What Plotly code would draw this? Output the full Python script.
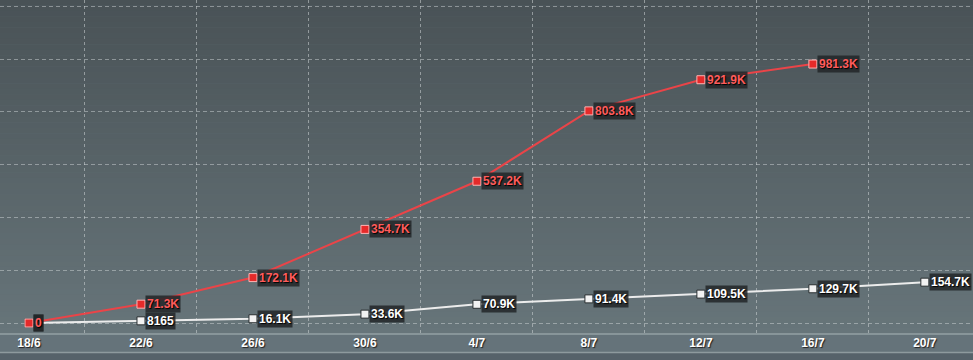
import plotly.graph_objects as go

# Reporting dates (every four days)
dates = ["18/6", "22/6", "26/6", "30/6", "4/7", "8/7", "12/7", "16/7", "20/7"]

# Cumulative totals for the two series
red_values = [0, 71300, 172100, 354700, 537200, 803800, 921900, 981300]
red_labels = ["0", "71.3K", "172.1K", "354.7K", "537.2K", "803.8K", "921.9K", "981.3K"]

white_values = [0, 8165, 16100, 33600, 70900, 91400, 109500, 129700, 154700]
white_labels = ["0", "8165", "16.1K", "33.6K", "70.9K", "91.4K", "109.5K", "129.7K", "154.7K"]

W, H = 973, 360
PLOT_H = 334
LABEL_FONT = "Liberation Sans Narrow, Arial Narrow, Liberation Sans, Arial"

fig = go.Figure()

fig.add_trace(go.Scatter(
    x=dates[:len(white_values)], y=white_values, mode="lines+markers",
    line=dict(color="#ececec", width=2),
    marker=dict(symbol="square", size=8, color="#f2f2f2",
                line=dict(color="#2a2f31", width=1)),
    hoverinfo="skip", showlegend=False,
))
fig.add_trace(go.Scatter(
    x=dates[:len(red_values)], y=red_values, mode="lines+markers",
    line=dict(color="#ea4448", width=2),
    marker=dict(symbol="square", size=8, color="#e52a2a",
                line=dict(color="#ffb3b3", width=1)),
    hoverinfo="skip", showlegend=False,
))

# Value labels in dark boxes to the right of each point
def add_labels(values, labels, color):
    for d, v, t in zip(dates, values, labels):
        fig.add_annotation(
            x=d, y=v, text=t, showarrow=False, xanchor="left", yanchor="middle",
            xshift=4, bgcolor="rgba(34,38,40,0.85)", borderpad=1,
            font=dict(family=LABEL_FONT, size=12, color=color, weight="bold",
                      shadow="1px 1px 1px #000"),
        )

add_labels(white_values, white_labels, "#ffffff")
add_labels(red_values, red_labels, "#ff5c5c")

# Vertical gradient behind the plot area
top = (0x49, 0x52, 0x56)
bot = (0x67, 0x75, 0x7a)
n = 60
shapes = []
for i in range(n):
    t = (i + 0.5) / n
    c = tuple(round(top[k] + (bot[k] - top[k]) * t) for k in range(3))
    shapes.append(dict(
        type="rect", xref="paper", yref="paper", x0=0, x1=1,
        y0=1 - (i + 1) / n, y1=1 - i / n + 0.001,
        fillcolor="rgb(%d,%d,%d)" % c, line=dict(width=0), layer="below",
    ))
# Bottom band below the tick labels
px = 1.0 / PLOT_H
shapes.append(dict(type="rect", xref="paper", yref="paper", x0=0, x1=1,
                   y0=-26 * px, y1=-18 * px, fillcolor="#56626a",
                   line=dict(width=0), layer="below"))
shapes.append(dict(type="line", xref="paper", yref="paper", x0=0, x1=1,
                   y0=-18.5 * px, y1=-18.5 * px,
                   line=dict(color="#8e9a9e", width=1.5), layer="below"))
shapes.append(dict(type="line", xref="paper", yref="paper", x0=0, x1=1,
                   y0=0, y1=0, line=dict(color="#93a0a4", width=1.5), layer="below"))

fig.update_layout(
    width=W, height=H,
    margin=dict(l=0, r=0, t=0, b=H - PLOT_H),
    paper_bgcolor="#65737a",
    plot_bgcolor="rgba(0,0,0,0)",
    shapes=shapes,
    xaxis=dict(
        type="category", categoryorder="array", categoryarray=dates,
        range=[-0.259, 8.43], tickson="boundaries", ticks="",
        showgrid=True, gridcolor="rgba(205,212,214,0.55)", griddash="dot",
        gridwidth=1, showline=False, zeroline=False, fixedrange=True,
        tickfont=dict(family=LABEL_FONT, size=12, color="#ffffff", weight="bold",
                      shadow="1px 1px 1px #222"),
    ),
    yaxis=dict(
        range=[-41700, 1224000], tickvals=[0, 200000, 400000, 600000, 800000, 1000000, 1200000],
        showticklabels=False, showgrid=True, gridcolor="rgba(205,212,214,0.5)",
        griddash="4px,3px", gridwidth=1, zeroline=False, showline=False,
        fixedrange=True,
    ),
)

fig.write_html("out.html")
